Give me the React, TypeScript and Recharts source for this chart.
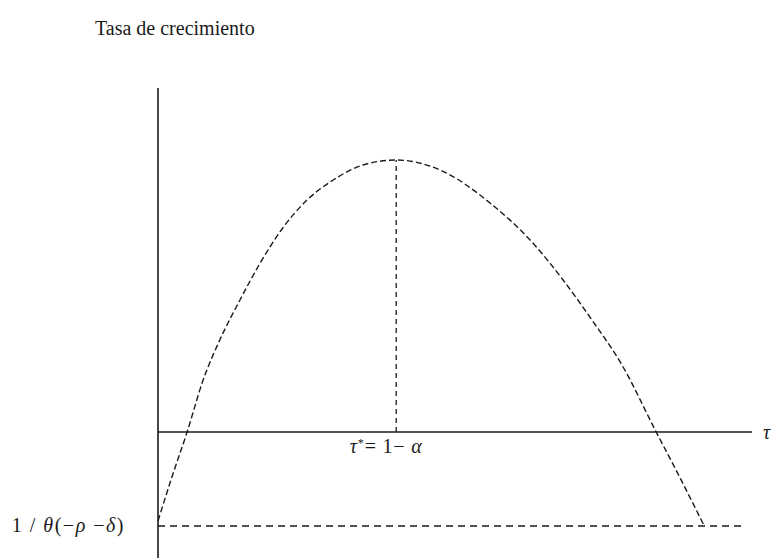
import {
  LineChart,
  Line,
  XAxis,
  YAxis,
  ReferenceLine,
} from "recharts";

// tasa de impuesto (eje horizontal) y tasa de crecimiento (curva)
const tau = [0, 2.4, 4.9, 7.6, 10.4, 13.8, 17.2, 21.0, 25.1, 29.5, 34.5, 40.1, 47.5, 55.9, 63.1, 68.2, 72.7, 78.3, 83.7, 87.9, 91.8];
const crecimiento = [-8.9, -4.4, 0, 5.2, 9.2, 13.2, 16.9, 20.4, 23.2, 25.2, 26.7, 27.2, 26.2, 22.9, 18.9, 15.2, 11.5, 6.5, 0.2, -4.6, -9.2];

const tauOptimo = 40.1;
const crecimientoMax = 27.2;
const piso = -9.4;
const tauMax = 100;
const pisoFin = 98.5;
const ejeVerticalTop = 34.4;

const data = tau.map((t, i) => ({ tau: t, g: crecimiento[i] }));

const ink = "#1a1a1a";
const serif = "'Liberation Serif', 'DejaVu Serif', serif";

// etiqueta "τ* = 1 − α" debajo del eje
const EtiquetaOptimo = (props: any) => {
  const vb = props.viewBox || {};
  const x = vb.x ?? 0;
  const y = (vb.y ?? 0) + (vb.height ?? 0);
  return (
    <text x={x - 10} y={y + 21} textAnchor="middle" fill={ink} fontSize={20} fontFamily={serif} letterSpacing={0.8}>
      <tspan fontStyle="italic">τ</tspan>
      <tspan dy={-6} fontSize={12}>*</tspan>
      <tspan dy={6}>= 1− </tspan>
      <tspan fontStyle="italic">α</tspan>
    </text>
  );
};

// etiqueta "1/θ(−ρ −δ)" a la izquierda del piso
const EtiquetaPiso = (props: any) => {
  const vb = props.viewBox || {};
  const x = vb.x ?? 0;
  const y = vb.y ?? 0;
  return (
    <text x={x - 33} y={y + 6} textAnchor="end" fill={ink} fontSize={20} fontFamily={serif} letterSpacing={1.5}>
      <tspan>1 / </tspan>
      <tspan fontStyle="italic">θ</tspan>
      <tspan>(−</tspan>
      <tspan fontStyle="italic">ρ</tspan>
      <tspan> −</tspan>
      <tspan fontStyle="italic">δ</tspan>
      <tspan>)</tspan>
    </text>
  );
};

export default function App() {
  return (
    <div style={{ position: "absolute", left: 0, top: 0, width: 773, height: 558, background: "#fff", fontFamily: serif }}>
      <div style={{ position: "absolute", left: 95, top: 17, fontSize: 20, color: ink, fontFamily: serif }}>
        Tasa de crecimiento
      </div>
      <LineChart
        width={773}
        height={558}
        data={data}
        margin={{ top: 45, right: 21, bottom: 0, left: 158 }}
      >
        <XAxis dataKey="tau" type="number" domain={[0, tauMax]} allowDataOverflow hide />
        <YAxis type="number" domain={[-12.6, 38.7]} allowDataOverflow hide />
        {/* eje vertical */}
        <ReferenceLine
          segment={[{ x: 0, y: -12.6 }, { x: 0, y: ejeVerticalTop }]}
          stroke={ink}
          strokeWidth={1.6}
          ifOverflow="visible"
        />
        {/* eje horizontal */}
        <ReferenceLine
          segment={[{ x: 0, y: 0 }, { x: tauMax, y: 0 }]}
          stroke={ink}
          strokeWidth={1.3}
          label={{ value: "τ", position: "right", offset: 11, fill: ink, fontSize: 20, fontFamily: serif, fontStyle: "italic" }}
        />
        {/* piso: 1/θ(−ρ−δ) */}
        <ReferenceLine
          segment={[{ x: 0, y: piso }, { x: pisoFin, y: piso }]}
          stroke={ink}
          strokeWidth={1.3}
          strokeDasharray="7 5"
          label={<EtiquetaPiso />}
        />
        {/* tasa óptima */}
        <ReferenceLine
          segment={[{ x: tauOptimo, y: 0 }, { x: tauOptimo, y: crecimientoMax }]}
          stroke={ink}
          strokeWidth={1.3}
          strokeDasharray="5 4"
          label={<EtiquetaOptimo />}
        />
        <Line
          type="monotone"
          dataKey="g"
          stroke={ink}
          strokeWidth={1.4}
          strokeDasharray="6 3"
          dot={false}
          isAnimationActive={false}
        />
      </LineChart>
    </div>
  );
}
